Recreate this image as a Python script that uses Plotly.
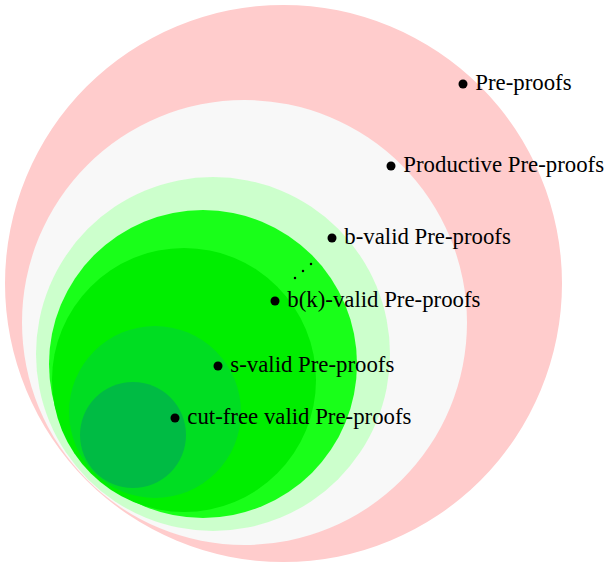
import plotly.graph_objects as go

# Nested sets (outer to inner): centre x, centre y, radius (chart units, y grows downward)
set_names = ["Pre-proofs", "Productive Pre-proofs", "b-valid Pre-proofs",
             "b(k)-valid Pre-proofs", "b(k')-valid Pre-proofs", "s-valid Pre-proofs",
             "cut-free valid Pre-proofs"]
circle_cx = [283.5, 244.5, 213, 203, 184, 155, 133]
circle_cy = [283.5, 322.5, 354, 364, 380, 412, 435]
circle_r = [278.5, 222.5, 177, 154, 132, 86, 53]
circle_colors = ["#FFCCCC", "#F8F8F8", "#CCFFCC", "#19FF19", "#00EE00", "#00DD22", "#00BB44"]

# Labelled points
label_text = ["Pre-proofs", "Productive Pre-proofs", "b-valid Pre-proofs",
              "b(k)-valid Pre-proofs", "s-valid Pre-proofs", "cut-free valid Pre-proofs"]
label_x = [463, 391, 332, 275, 218, 175]
label_y = [84, 166, 238, 301, 366, 418]

# Ellipsis dots between b-valid and b(k)-valid
ell_x = [295, 303, 311]
ell_y = [278, 271, 264]

W, H = 607, 566
fig = go.Figure()

for cx, cy, r, col in zip(circle_cx, circle_cy, circle_r, circle_colors):
    fig.add_shape(type="circle", xref="x", yref="y",
                  x0=cx - r, x1=cx + r, y0=cy - r, y1=cy + r,
                  fillcolor=col, line=dict(width=0), layer="below")

fig.add_trace(go.Scatter(
    x=label_x, y=label_y, mode="markers+text", text=[" " + t for t in label_text],
    textposition="middle right", cliponaxis=False,
    marker=dict(color="black", size=9),
    textfont=dict(family="Liberation Serif, DejaVu Serif, serif", size=22.8, color="black"),
    hoverinfo="skip", showlegend=False))

fig.add_trace(go.Scatter(
    x=ell_x, y=ell_y, mode="markers",
    marker=dict(color="black", size=2.5),
    hoverinfo="skip", showlegend=False))

fig.update_layout(
    width=W, height=H, margin=dict(l=0, r=0, t=0, b=0),
    paper_bgcolor="white", plot_bgcolor="white",
    xaxis=dict(range=[0, W], visible=False, fixedrange=True),
    yaxis=dict(range=[H, 0], visible=False, fixedrange=True),
)

fig.write_html("out.html", config={"displayModeBar": False, "staticPlot": True},
               post_script="document.body.style.margin='0';document.body.style.overflow='hidden';")
